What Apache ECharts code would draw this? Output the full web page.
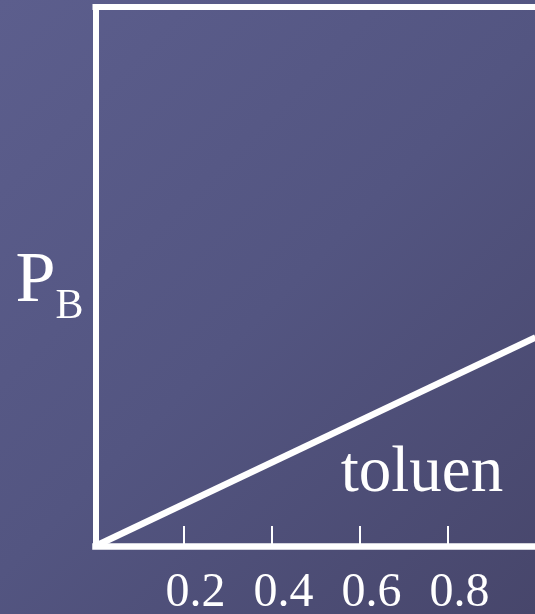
<!DOCTYPE html>
<meta charset="utf-8">
<style>
html, body {
    margin: 0;
    padding: 0;
}
body {
    background: linear-gradient(135deg, #5c5e8d 0%, #535581 50%, #47466b 100%);
}
#main {
    width: 535px;
    height: 614px;
}
</style>

<div id="main"></div>

<script src="https://cdn.jsdelivr.net/npm/echarts@6/dist/echarts.min.js"></script>
<script>

// line for toluene: partial pressure vs mole fraction
var xValues = [0, 1];
var yValues = [0, 0.387];
var tickLabels = ['0.2', '0.4', '0.6', '0.8'];
var seriesName = 'toluen';
var labelPos = [0.742, 0.133];

var serif = '"Liberation Serif", "Times New Roman", serif';

var chart = echarts.init(document.getElementById('main'), null, {renderer: 'canvas'});

var lineData = xValues.map(function (x, i) {
    return [x, yValues[i]];
});

chart.setOption({
    backgroundColor: 'transparent',
    animation: false,
    grid: {
        left: 95.5,
        right: -0.5,
        top: 7,
        bottom: 68,
        containLabel: false,
        outerBoundsMode: 'none'
    },
    xAxis: [
        {
            type: 'value',
            min: 0,
            max: 1,
            interval: 0.2,
            splitLine: {show: false},
            axisLine: {
                lineStyle: {color: '#fff', width: 6.5, cap: 'square'}
            },
            axisTick: {
                inside: true,
                length: 20,
                lineStyle: {color: '#fff', width: 2}
            },
            axisLabel: {
                color: '#fff',
                fontFamily: serif,
                fontSize: 48,
                margin: 23,
                padding: [0, 0, 0, 24],
                showMinLabel: false,
                showMaxLabel: false,
                formatter: function (v) {
                    var s = v.toFixed(1);
                    return tickLabels.indexOf(s) >= 0 ? s : '';
                }
            }
        },
        {
            type: 'value',
            position: 'top',
            min: 0,
            max: 1,
            axisLine: {
                lineStyle: {color: '#fff', width: 6, cap: 'square'}
            },
            axisTick: {show: false},
            axisLabel: {show: false},
            splitLine: {show: false}
        }
    ],
    yAxis: {
        type: 'value',
        min: 0,
        max: 1,
        name: '{p|P}{b|B}',
        nameLocation: 'middle',
        nameRotate: 0,
        nameGap: 12,
        nameTextStyle: {
            color: '#fff',
            fontFamily: serif,
            padding: [12, 0, 0, 0],
            rich: {
                p: {fontSize: 72, fontFamily: serif, color: '#fff', lineHeight: 72},
                b: {fontSize: 42, fontFamily: serif, color: '#fff', lineHeight: 42, padding: [48, 0, 0, 0]}
            }
        },
        splitLine: {show: false},
        axisTick: {show: false},
        axisLabel: {show: false},
        axisLine: {
            lineStyle: {color: '#fff', width: 6, cap: 'square'}
        }
    },
    series: [
        {
            name: seriesName,
            type: 'line',
            data: lineData,
            symbol: 'none',
            lineStyle: {color: '#fff', width: 6.5},
            markPoint: {
                symbol: 'circle',
                symbolSize: 0,
                data: [{coord: labelPos, value: seriesName}],
                label: {
                    show: true,
                    position: 'inside',
                    formatter: seriesName,
                    color: '#fff',
                    fontFamily: serif,
                    fontSize: 65
                }
            }
        }
    ]
});

</script>
